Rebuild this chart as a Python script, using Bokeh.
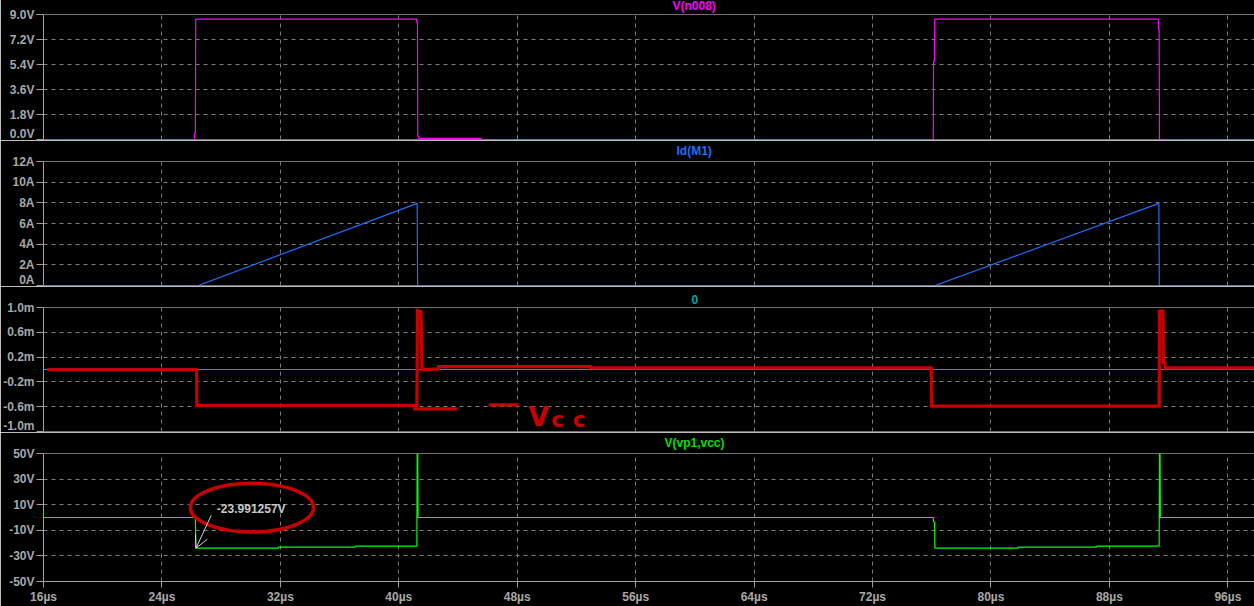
from bokeh.plotting import figure
from bokeh.layouts import column
from bokeh.models import (Range1d, FixedTicker, Span, Title, Arrow, OpenHead,
                          CustomJSTickFormatter)
from bokeh.embed import file_html
from bokeh.resources import INLINE
from bokeh.core.properties import value

# ---------------- data ----------------
# time axis (microseconds)
x_ticks = [16, 24, 32, 40, 48, 56, 64, 72, 80, 88, 96]
x_labels = ["16µs", "24µs", "32µs", "40µs", "48µs", "56µs", "64µs", "72µs", "80µs", "88µs", "96µs"]

# pane 1: V(n008)
v_ticks = [0.0, 1.8, 3.6, 5.4, 7.2, 9.0]
v_labels = ["0.0V", "1.8V", "3.6V", "5.4V", "7.2V", "9.0V"]
t_n008 = [16, 26.18, 26.2, 26.26, 26.28, 41.2, 41.22, 41.26, 41.28, 41.34, 41.36, 45.56, 45.58,
          76.1, 76.12, 76.18, 76.2, 91.3, 91.32, 91.36, 91.38, 97.8]
v_n008 = [0, 0, 0.45, 0.45, 8.66, 8.66, 8.4, 8.4, 0.24, 0.24, 0.08, 0.08, 0,
          0, 5.6, 5.6, 8.66, 8.66, 7.9, 7.9, 0, 0]

# pane 2: Id(M1)
i_ticks = [0, 2, 4, 6, 8, 10, 12]
i_labels = ["0A", "2A", "4A", "6A", "8A", "10A", "12A"]
t_id = [16, 26.45, 41.24, 41.27, 76.22, 91.34, 91.37, 97.8]
i_id = [0, 0, 7.95, 0, 0, 7.95, 0, 0]

# pane 3: "0" trace and hand-drawn red trace (m)
m_ticks = [-1.0, -0.6, -0.2, 0.2, 0.6, 1.0]
m_labels = ["-1.0m", "-0.6m", "-0.2m", "0.2m", "0.6m", "1.0m"]
t_zero = [16, 97.8]
v_zero = [0, 0]
t_red = [16.23, 26.34, 26.36, 41.22, 41.26, 41.5, 41.56, 42.66, 42.68, 52.93, 52.95,
         75.96, 75.98, 91.36, 91.38, 91.62, 91.65, 91.75, 91.77, 97.8]
v_red = [0.0, 0.0, -0.58, -0.58, 0.95, 0.93, 0.0, 0.01, 0.045, 0.045, 0.025,
         0.025, -0.59, -0.59, 0.94, 0.94, 0.11, 0.11, 0.025, 0.025]
red_strokes_x = [[40.97, 43.94], [46.06, 48.08]]
red_strokes_y = [[-0.635, -0.635], [-0.57, -0.57]]

# pane 4: V(vp1,vcc)
g_ticks = [-50, -30, -10, 10, 30, 50]
g_labels = ["-50V", "-30V", "-10V", "10V", "30V", "50V"]
t_vp = [16, 26.26, 26.28, 31.87, 31.89, 37.05, 37.07, 41.22, 41.24, 41.28, 41.3,
        76.1, 76.12, 76.19, 76.21, 81.84, 81.86, 87.13, 87.15, 91.36, 91.38, 91.42, 91.44, 97.8]
v_vp = [0, 0, -24.0, -24.0, -23.2, -23.2, -22.4, -22.4, 52, 52, 0,
        0, -3.5, -3.5, -24.0, -24.0, -23.2, -23.2, -22.4, -22.4, 52, 52, 0, 0]
cursor_text = "-23.991257V"

# ---------------- style ----------------
W = 1254
AX = "#a0a0a0"
GRID = "#7c7c7c"
LBL = "#a8a8a8"
RED = "#c80000"
FONT = "Liberation Sans"

xr = Range1d(16, 97.8)


def fmt(tv, tl):
    return CustomJSTickFormatter(args=dict(tv=tv, tl=tl), code="""
        const i = tv.findIndex(t => Math.abs(t - tick) < 1e-9);
        return i >= 0 ? tl[i] : '';
    """)


def pane(height, top, bottom, yr, yt, yl, title, tcolor, toff, show_x=False,
         valign="top", tstand=3):
    p = figure(width=W, height=height, x_range=xr, y_range=Range1d(*yr),
               output_backend="svg", toolbar_location=None,
               x_axis_location="below" if show_x else None,
               min_border_left=43, min_border_right=0,
               min_border_top=top, min_border_bottom=bottom,
               background_fill_color="black", border_fill_color="black",
               outline_line_color=None)
    ya = p.yaxis[0]
    ya.ticker = FixedTicker(ticks=yt)
    ya.formatter = fmt(yt, yl)
    ya.axis_line_color = AX
    ya.major_tick_line_color = AX
    ya.major_tick_out = 7
    ya.major_tick_in = 0
    ya.minor_tick_line_color = None
    ya.major_label_standoff = 2
    ya.major_label_text_color = LBL
    ya.major_label_text_font = FONT
    ya.major_label_text_font_style = "bold"
    ya.major_label_text_font_size = "12px"
    for g in p.ygrid:
        g.ticker = FixedTicker(ticks=yt[1:-1])
        g.grid_line_color = GRID
        g.grid_line_dash = "4 4"
    for g in p.xgrid:
        g.ticker = FixedTicker(ticks=x_ticks[1:])
        g.grid_line_color = GRID
        g.grid_line_dash = "4 4"
    if show_x:
        xa = p.xaxis[0]
        xa.ticker = FixedTicker(ticks=x_ticks)
        xa.formatter = fmt(x_ticks, x_labels)
        xa.axis_line_color = AX
        xa.major_tick_line_color = AX
        xa.major_tick_out = 6
        xa.major_tick_in = 0
        xa.minor_tick_line_color = None
        xa.major_label_standoff = 2
        xa.major_label_text_color = LBL
        xa.major_label_text_font = FONT
        xa.major_label_text_font_style = "bold"
        xa.major_label_text_font_size = "12px"
    else:
        p.add_layout(Span(location=yr[0], dimension="width", line_color=AX, line_width=1))
    p.add_layout(Span(location=yr[1], dimension="width", line_color=AX, line_width=1))
    p.add_layout(Title(text=title, align="left", offset=toff, standoff=tstand,
                       vertical_align=valign, text_color=tcolor, text_font=FONT,
                       text_font_style="bold", text_font_size="12px"), "above")
    return p


p1 = pane(147, 21, 1, (0, 9), v_ticks, v_labels, "V(n008)", "#ff00ff", 629,
          valign="bottom", tstand=3)
p1.line(t_n008, v_n008, line_color="#ff00ff", line_width=1.2)

p2 = pane(146, 21, 1, (0, 12), i_ticks, i_labels, "Id(M1)", "#1e6eff", 633)
p2.line(t_id, i_id, line_color="#1e6eff", line_width=1.2)

p3 = pane(146, 21, 1, (-1.0, 1.0), m_ticks, m_labels, "0", "#00a8a8", 648)
p3.line(t_zero, v_zero, line_color="#00a8a8", line_width=1.2)
p3.line(t_red, v_red, line_color=RED, line_width=3.2, line_join="miter")
p3.multi_line(red_strokes_x, red_strokes_y, line_color=RED, line_width=3.2)
p3.text(x=[48.74], y=[-0.75], text=["V"], text_color=RED, text_font=value("DejaVu Sans"),
        text_font_style="bold", text_font_size="27px", text_baseline="alphabetic")
p3.text(x=[50.3, 51.75], y=[-0.80, -0.80], text=["c", "c"], text_color=RED,
        text_font=value("DejaVu Sans"), text_font_style="bold", text_font_size="22px",
        text_baseline="alphabetic")

p4 = pane(174, 21, 24, (-50, 50), g_ticks, g_labels, "V(vp1,vcc)", "#00e000", 621, show_x=True)
p4.line(t_vp, v_vp, line_color="#00ff00", line_width=1.2)
p4.add_layout(Arrow(end=OpenHead(size=13, line_color="#d8d8d8", line_width=1),
                    x_start=27.33, y_start=1.7, x_end=26.3, y_end=-24,
                    line_color="#d8d8d8", line_width=1))
p4.text(x=[27.71], y=[6.9], text=[cursor_text], text_color="#c8c8c8",
        text_font=value(FONT), text_font_style="bold", text_font_size="12px",
        text_baseline="middle", text_align="left")
p4.ellipse(x=[30.08], y=[7.75], width=[8.31], height=[38], fill_color=None,
           line_color=RED, line_width=3.5)

layout = column(p1, p2, p3, p4, spacing=0, margin=(-7, 0, 0, 0))
open("out.html", "w").write(file_html(layout, INLINE))
